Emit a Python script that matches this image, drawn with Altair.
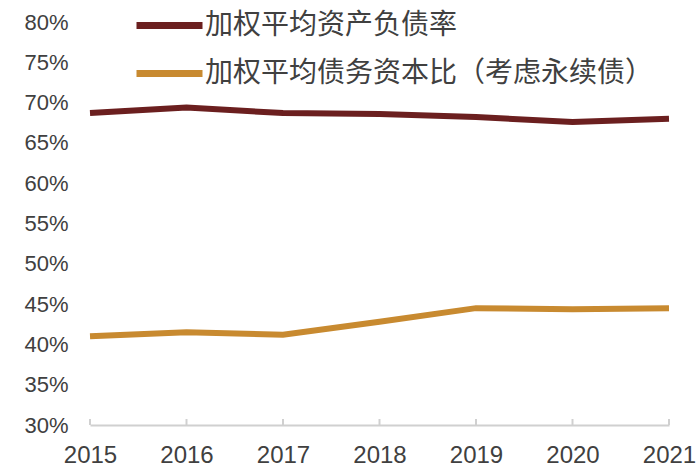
import altair as alt
import pandas as pd

years = [2015, 2016, 2017, 2018, 2019, 2020, 2021]
series_names = ["加权平均资产负债率", "加权平均债务资本比（考虑永续债）"]
asset_liability = [0.687, 0.694, 0.687, 0.686, 0.682, 0.676, 0.680]
debt_capital = [0.410, 0.415, 0.412, 0.428, 0.445, 0.4435, 0.445]
colors = ["#6B1F1F", "#C88A30"]

rows = []
for y, v in zip(years, asset_liability):
    rows.append({"year": y, "value": v, "series": series_names[0]})
for y, v in zip(years, debt_capital):
    rows.append({"year": y, "value": v, "series": series_names[1]})
df = pd.DataFrame(rows)
ticks_df = pd.DataFrame({"year": years})

FONT = "Liberation Sans"
CJK = "Noto Sans CJK SC"

xscale = alt.Scale(domain=[2015, 2021], nice=False, zero=False)

lines = alt.Chart(df).mark_line(strokeWidth=6).encode(
    x=alt.X("year:Q", scale=xscale,
            axis=alt.Axis(values=years, format="d", title=None, grid=False,
                          domainColor="#D0D0D0", domainWidth=2, ticks=False,
                          labelFontSize=24, labelColor="#404040", labelFont=FONT,
                          labelPadding=18, labelFlush=False)),
    y=alt.Y("value:Q",
            scale=alt.Scale(domain=[0.30, 0.80], nice=False, zero=False),
            axis=alt.Axis(values=[0.30, 0.35, 0.40, 0.45, 0.50, 0.55, 0.60, 0.65, 0.70, 0.75, 0.80],
                          format=".0%", title=None, grid=False, domain=False, ticks=False,
                          labelFontSize=22, labelColor="#404040", labelFont=FONT,
                          labelPadding=22)),
    color=alt.Color("series:N",
                    scale=alt.Scale(domain=series_names, range=colors),
                    legend=alt.Legend(title=None, orient="none", legendX=56, legendY=-20,
                                      symbolType="M-1.65,0L1.65,0", symbolSize=1600,
                                      symbolStrokeWidth=7, labelFontSize=28,
                                      labelFont=CJK, labelColor="#404040",
                                      labelOffset=12, rowPadding=10, labelLimit=600)),
)

ticks = alt.Chart(ticks_df).mark_rule(color="#D0D0D0", strokeWidth=2).encode(
    x=alt.X("year:Q", scale=xscale),
    y=alt.value(397),
    y2=alt.value(403),
)

chart = alt.layer(ticks, lines).properties(
    width=579, height=403,
    padding={"left": 90, "top": 22, "right": 31, "bottom": 49},
    autosize=alt.AutoSizeParams(type="none"),
).configure_view(stroke=None)

chart.save("out.html", embed_options={"renderer": "svg", "actions": False})
